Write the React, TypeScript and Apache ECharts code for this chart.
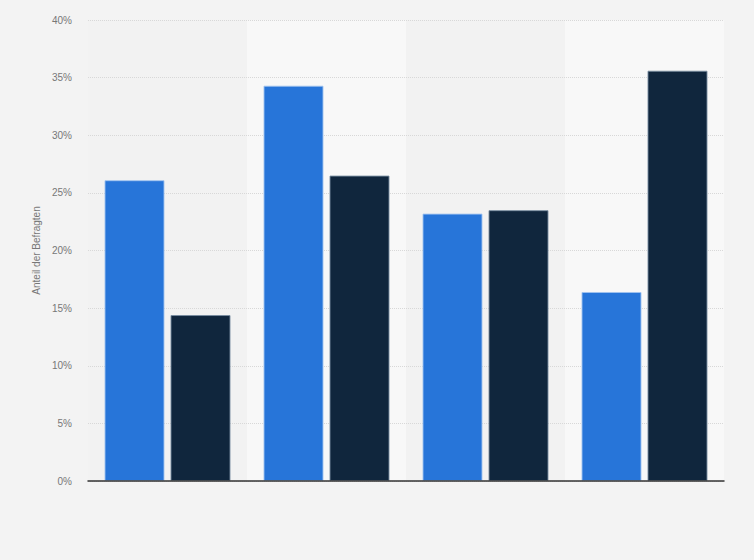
import { useRef, useEffect } from "react";
import * as echarts from "echarts";

const categories = ["A", "B", "C", "D"];
const seriesBlue = [26.1, 34.3, 23.2, 16.4];
const seriesNavy = [14.4, 26.5, 23.5, 35.6];
const yTicks = [0, 5, 10, 15, 20, 25, 30, 35, 40];

function App() {
    const chartRef = useRef<HTMLDivElement | null>(null);

    useEffect(() => {
        if (!chartRef.current) return;
        const chart = echarts.init(chartRef.current, null, { renderer: "svg" });

        chart.setOption({
            animation: false,
            backgroundColor: "#f3f3f3",
            textStyle: { fontFamily: "Liberation Sans, Arial, sans-serif" },
            grid: { left: 88, right: 30, top: 20, bottom: 79, containLabel: false },
            xAxis: [
                {
                    type: "category",
                    data: categories,
                    z: 0,
                    axisLine: { show: false },
                    axisTick: { show: false },
                    axisLabel: { show: false },
                    splitArea: {
                        show: true,
                        areaStyle: { color: ["#f2f2f2", "#f8f8f8"] },
                    },
                },
                {
                    // solid baseline drawn above the dotted grid lines
                    type: "category",
                    data: categories,
                    position: "bottom",
                    z: 5,
                    axisLine: { show: true, lineStyle: { color: "#333", width: 1.5 } },
                    axisTick: { show: false },
                    axisLabel: { show: false },
                    splitLine: { show: false },
                    splitArea: { show: false },
                },
            ],
            yAxis: {
                type: "value",
                z: 1,
                min: yTicks[0],
                max: yTicks[yTicks.length - 1],
                interval: 5,
                name: "Anteil der Befragten",
                nameLocation: "middle",
                nameGap: 47,
                nameTextStyle: { color: "#777", fontSize: 10 },
                axisLine: { show: false },
                axisTick: { show: false },
                axisLabel: {
                    color: "#777",
                    fontSize: 10,
                    margin: 16,
                    formatter: (v: number) => v + "%",
                },
                splitLine: {
                    show: true,
                    lineStyle: { color: "#d8d8d8", type: [1, 1], width: 1 },
                },
            },
            series: [
                {
                    type: "bar",
                    data: seriesBlue,
                    barWidth: 60,
                    barGap: "10%",
                    z: 3,
                    itemStyle: {
                        color: "#2775d9",
                        borderColor: "rgba(160,195,240,0.9)",
                        borderWidth: 1,
                    },
                },
                {
                    type: "bar",
                    data: seriesNavy,
                    barWidth: 60,
                    barGap: "10%",
                    z: 3,
                    itemStyle: {
                        color: "#10263d",
                        borderColor: "rgba(120,140,160,0.9)",
                        borderWidth: 1,
                    },
                },
            ],
        });

        return () => {
            chart.dispose();
        };
    }, []);

    return (
        <div
            ref={chartRef}
            style={{
                position: "fixed",
                left: 0,
                top: 0,
                width: "754px",
                height: "560px",
            }}
        />
    );
}

export default App;
